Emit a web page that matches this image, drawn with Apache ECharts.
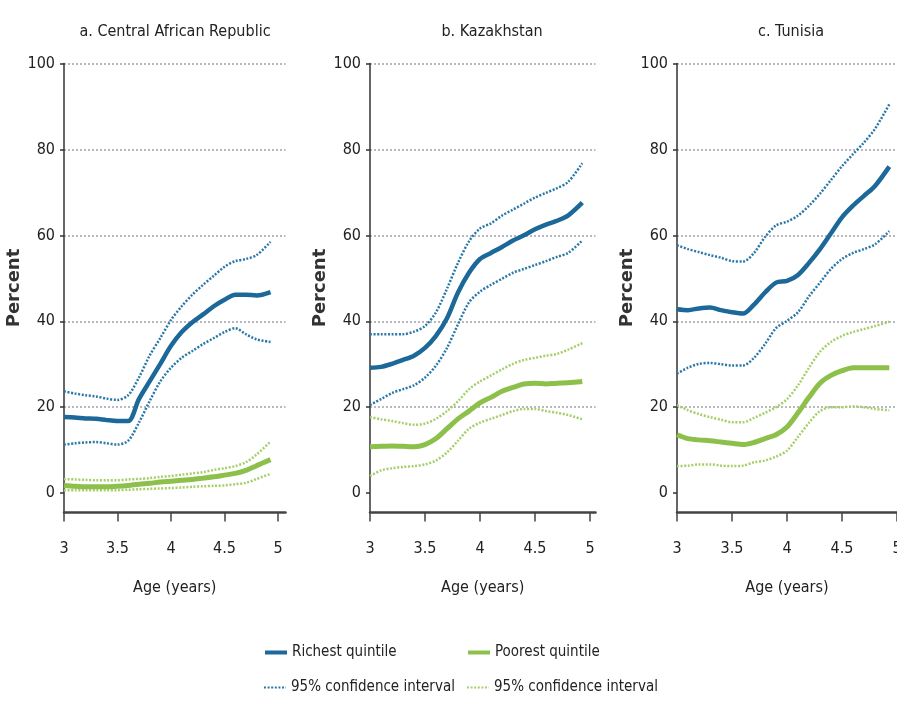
<!DOCTYPE html>
<html>
<head>
<meta charset="utf-8">
<title>Richest vs poorest quintile by age</title>
<script src="https://cdn.jsdelivr.net/npm/echarts@6/dist/echarts.min.js"></script>
<style>
  html, body { margin: 0; padding: 0; background: #fff; }
  #chart { width: 897px; height: 701px; }
</style>
</head>
<body>
<div id="chart"></div>
<script>
// age points (years)
const ages = [3.0, 3.1, 3.2, 3.3, 3.4, 3.5, 3.6, 3.7, 3.8, 3.9, 4.0, 4.1, 4.2, 4.3, 4.4, 4.5, 4.6, 4.7, 4.8, 4.93]
const xTicks = [3, 3.5, 4, 4.5, 5]
const yTicks = [0, 20, 40, 60, 80, 100]

// a. Central African Republic
const carRich   = [17.7, 17.6, 17.4, 17.3, 17.0, 16.8, 16.8, 21.9, 26.0, 30.1, 34.3, 37.5, 39.8, 41.6, 43.5, 45.0, 46.2, 46.2, 46.0, 46.8]
const carRichHi = [23.7, 23.2, 22.8, 22.5, 22.0, 21.7, 22.8, 26.9, 32.0, 36.1, 40.3, 43.5, 46.2, 48.5, 50.6, 52.7, 54.0, 54.5, 55.4, 58.5]
const carRichLo = [11.3, 11.6, 11.8, 11.9, 11.6, 11.3, 12.2, 16.4, 21.4, 26.0, 29.2, 31.5, 33.1, 34.7, 36.1, 37.5, 38.4, 37.0, 35.8, 35.2]
const carPoor   = [1.8, 1.6, 1.5, 1.5, 1.5, 1.6, 1.8, 2.1, 2.3, 2.6, 2.8, 3.0, 3.2, 3.5, 3.8, 4.2, 4.6, 5.3, 6.4, 7.8]
const carPoorHi = [3.3, 3.2, 3.1, 3.0, 3.0, 3.0, 3.2, 3.3, 3.5, 3.8, 4.0, 4.3, 4.6, 4.9, 5.4, 5.8, 6.3, 7.2, 9.0, 12.0]
const carPoorLo = [0.7, 0.7, 0.7, 0.7, 0.7, 0.7, 0.8, 0.9, 1.0, 1.1, 1.2, 1.3, 1.5, 1.6, 1.7, 1.8, 2.1, 2.4, 3.3, 4.5]

// b. Kazakhstan
const kazRich   = [29.2, 29.4, 30.1, 31.0, 32.0, 33.8, 36.6, 40.7, 46.7, 51.3, 54.5, 55.9, 57.3, 58.8, 60.0, 61.4, 62.5, 63.4, 64.6, 67.6]
const kazRichHi = [37.0, 37.0, 37.0, 37.0, 37.6, 38.9, 42.1, 47.6, 53.6, 58.6, 61.6, 62.8, 64.6, 66.0, 67.4, 68.8, 69.9, 71.0, 72.4, 76.8]
const kazRichLo = [20.5, 21.9, 23.3, 24.2, 25.1, 26.9, 29.7, 33.8, 39.3, 44.4, 46.9, 48.5, 49.9, 51.3, 52.2, 53.1, 54.0, 55.0, 55.9, 58.8]
const kazPoor   = [10.8, 10.9, 11.0, 10.9, 10.8, 11.3, 12.7, 15.0, 17.3, 19.1, 21.0, 22.3, 23.7, 24.6, 25.4, 25.6, 25.4, 25.6, 25.7, 26.0]
const kazPoorHi = [17.7, 17.2, 16.8, 16.3, 15.9, 16.2, 17.3, 19.1, 21.4, 24.2, 26.0, 27.4, 28.8, 30.1, 31.0, 31.5, 32.0, 32.4, 33.4, 34.9]
const kazPoorLo = [4.0, 5.3, 5.8, 6.1, 6.3, 6.7, 7.6, 9.5, 12.2, 15.0, 16.4, 17.3, 18.2, 19.1, 19.6, 19.6, 19.1, 18.7, 18.2, 17.2]

// c. Tunisia
const tunRich   = [42.8, 42.6, 43.0, 43.2, 42.6, 42.1, 41.8, 43.9, 46.7, 49.0, 49.4, 50.8, 53.6, 56.8, 60.5, 64.2, 66.9, 69.2, 71.5, 76.0]
const tunRichHi = [57.7, 56.8, 56.1, 55.4, 54.8, 54.0, 53.9, 55.9, 59.6, 62.3, 63.2, 64.6, 66.9, 69.7, 72.9, 76.1, 78.9, 81.6, 84.8, 90.5]
const tunRichLo = [27.8, 29.2, 30.1, 30.3, 30.0, 29.7, 29.7, 31.5, 34.7, 38.4, 40.1, 42.1, 45.8, 49.0, 52.2, 54.5, 55.9, 56.8, 57.9, 61.0]
const tunPoor   = [13.6, 12.7, 12.4, 12.2, 11.9, 11.6, 11.3, 11.8, 12.7, 13.6, 15.4, 18.7, 22.3, 25.6, 27.4, 28.5, 29.2, 29.2, 29.2, 29.2]
const tunPoorHi = [20.5, 19.3, 18.4, 17.7, 17.1, 16.5, 16.5, 17.5, 18.7, 20.0, 21.9, 25.1, 29.2, 32.9, 35.2, 36.6, 37.5, 38.2, 38.9, 39.9]
const tunPoorLo = [6.3, 6.4, 6.7, 6.7, 6.4, 6.3, 6.4, 7.2, 7.6, 8.5, 9.9, 13.1, 16.4, 19.1, 20.0, 20.0, 20.2, 20.0, 19.6, 19.3]

const panelTitles = ['a. Central African Republic', 'b. Kazakhstan', 'c. Tunisia']
const panelData = [
  [carRich, carRichHi, carRichLo, carPoor, carPoorHi, carPoorLo],
  [kazRich, kazRichHi, kazRichLo, kazPoor, kazPoorHi, kazPoorLo],
  [tunRich, tunRichHi, tunRichLo, tunPoor, tunPoorHi, tunPoorLo]
]

// layout per panel (pixels)
const layout = [
  { left: 64, width: 221.5, xMax: 5.07, titleX: 170, nameGap: 34 },
  { left: 370, width: 225.5, xMax: 5.05, titleX: 487, nameGap: 38 },
  { left: 677, width: 220, xMax: 5.0, titleX: 786, nameGap: 33 }
]

const NARROW = "'Liberation Sans Narrow', 'DejaVu Sans Condensed', sans-serif"
const BLUE = '#1b6899'
const BLUE_CI = '#2a78a8'
const GREEN = '#8cc04b'
const GREEN_CI = '#a6cf6b'

const toPoints = arr => ages.map((a, i) => [a, arr[i]])

const chart = echarts.init(document.getElementById('chart'))

const grids = []
const xAxes = []
const yAxes = []
const titles = []
const series = []

layout.forEach((p, i) => {
  grids.push({ left: p.left, top: 63.5, width: p.width, height: 449, outerBoundsMode: 'none', containLabel: false })
  titles.push({
    text: panelTitles[i],
    left: p.titleX,
    top: 19,
    textAlign: 'center',
    textStyle: { fontFamily: NARROW, fontSize: 16, fontWeight: 'normal', color: '#222' }
  })
  xAxes.push({
    type: 'value',
    gridIndex: i,
    min: 3,
    max: p.xMax,
    name: 'Age (years)',
    nameLocation: 'middle',
    nameGap: 67,
    nameTextStyle: { fontFamily: NARROW, fontSize: 16, color: '#222' },
    axisLine: { onZero: false, lineStyle: { color: '#444', width: 2.5 } },
    axisTick: { length: 9, customValues: xTicks, lineStyle: { color: '#444', width: 1.5 } },
    axisLabel: { customValues: xTicks, margin: 28, fontFamily: NARROW, fontSize: 16, color: '#222' },
    splitLine: { show: false }
  })
  yAxes.push({
    type: 'value',
    gridIndex: i,
    min: -4.5,
    max: 100,
    splitNumber: 5,
    name: 'Percent',
    nameLocation: 'middle',
    nameGap: p.nameGap,
    nameTextStyle: { fontFamily: 'DejaVu Sans', fontSize: 18, fontWeight: 'bold', color: '#333' },
    axisLine: { show: true, onZero: false, lineStyle: { color: '#333', width: 1.5 } },
    axisTick: { show: true, length: 4, customValues: yTicks, lineStyle: { color: '#333', width: 1.5 } },
    axisLabel: { customValues: yTicks, margin: 9, fontFamily: NARROW, fontSize: 16, color: '#222' },
    splitLine: {
      show: true,
      showMinLine: false,
      lineStyle: { color: '#b8b8c0', width: 2, type: [2, 2] }
    }
  })

  const [rich, richHi, richLo, poor, poorHi, poorLo] = panelData[i]
  const line = (name, data, color, width, dotted, z) => ({
    name,
    type: 'line',
    xAxisIndex: i,
    yAxisIndex: i,
    data: toPoints(data),
    smooth: 0.3,
    symbol: 'none',
    z,
    lineStyle: { color, width, type: dotted ? [2, 1.6] : 'solid' },
    itemStyle: { color }
  })
  series.push(
    line('Poorest CI', poorHi, GREEN_CI, 2.5, true, 2),
    line('Poorest CI', poorLo, GREEN_CI, 2.5, true, 2),
    line('Poorest quintile', poor, GREEN, 5, false, 3),
    line('95% confidence interval', richHi, BLUE_CI, 2.5, true, 4),
    line('95% confidence interval', richLo, BLUE_CI, 2.5, true, 4),
    line('Richest quintile', rich, BLUE, 4.5, false, 5)
  )
})

const legendBase = {
  itemWidth: 22,
  itemHeight: 12,
  itemGap: 6,
  selectedMode: false,
  itemStyle: { opacity: 0 },
  textStyle: { fontFamily: NARROW, fontSize: 15, color: '#222' }
}
const solidIcon = { lineStyle: { width: 4 } }

chart.setOption({
  animation: false,
  backgroundColor: '#fff',
  title: titles,
  grid: grids,
  xAxis: xAxes,
  yAxis: yAxes,
  legend: [
    { ...legendBase, ...solidIcon, left: 258, top: 640, data: ['Richest quintile'] },
    { ...legendBase, ...solidIcon, left: 461, top: 640, data: ['Poorest quintile'] },
    { ...legendBase, left: 258, top: 675, data: ['95% confidence interval'] },
    { ...legendBase, left: 461, top: 675, data: ['Poorest CI'], formatter: () => '95% confidence interval' }
  ],
  series
})
</script>
</body>
</html>
